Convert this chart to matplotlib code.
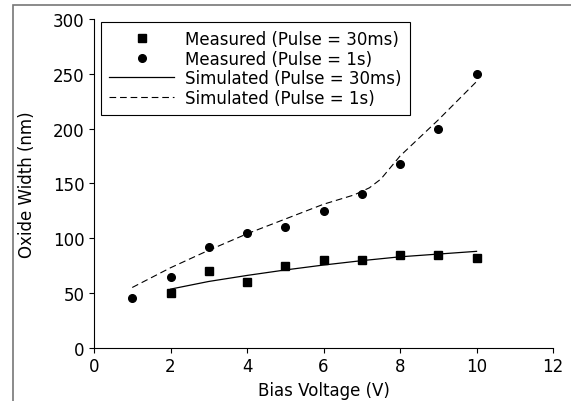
import matplotlib
matplotlib.use('Agg')
import matplotlib.pyplot as plt
from matplotlib.patches import Rectangle

# measured data
volts_30ms = [2, 3, 4, 5, 6, 7, 8, 9, 10]
width_30ms = [50, 70, 60, 75, 80, 80, 85, 85, 82]
volts_1s = [1, 2, 3, 4, 5, 6, 7, 8, 9, 10]
width_1s = [45, 65, 92, 105, 110, 125, 140, 168, 200, 250]

# simulated curves
sim_volts_30ms = [2, 3, 4, 5, 6, 7, 8, 9, 10]
sim_width_30ms = [53.5, 60.5, 66, 71, 75.5, 79.5, 83, 85.5, 88]
sim_volts_1s = [1, 2, 3, 4, 5, 6, 6.8, 7.2, 7.5, 8, 9, 10]
sim_width_1s = [55, 73, 89, 104, 117.5, 131, 139.5, 146, 154, 175, 208, 243]

fig = plt.figure(figsize=(5.71, 4.02), dpi=100)
ax = fig.add_axes([0.1646, 0.1325, 0.804, 0.8175])

# grey frame around the figure (cut off at right/bottom)
fig.patches.append(Rectangle((13 / 571, -0.1), 1.2, 1 - 6 / 402 + 0.1,
                             transform=fig.transFigure, fill=False,
                             edgecolor='#777777', linewidth=1.2))

ax.plot(volts_30ms, width_30ms, 's', color='black', markersize=6,
        label='Measured (Pulse = 30ms)')
ax.plot(volts_1s, width_1s, 'o', color='black', markersize=5.5,
        label='Measured (Pulse = 1s)')
ax.plot(sim_volts_30ms, sim_width_30ms, '-', color='black', linewidth=0.9,
        label='Simulated (Pulse = 30ms)')
ax.plot(sim_volts_1s, sim_width_1s, color='black', linewidth=0.8,
        dashes=(6, 3.5), label='Simulated (Pulse = 1s)')

ax.set_xlim(0, 12)
ax.set_ylim(0, 300)
ax.set_xticks([0, 2, 4, 6, 8, 10, 12])
ax.set_yticks([0, 50, 100, 150, 200, 250, 300])
ax.spines['top'].set_visible(False)
ax.spines['right'].set_visible(False)
ax.tick_params(labelsize=12)
ax.set_xlabel('Bias Voltage (V)', fontsize=12)
ax.set_ylabel('Oxide Width (nm)', fontsize=12, labelpad=12)

leg = ax.legend(loc='upper left', bbox_to_anchor=(7 / 459, 1 - 2.5 / 328.5),
                borderaxespad=0, fontsize=12, handlelength=3.9,
                handletextpad=0.65, fancybox=False, edgecolor='black',
                framealpha=1, labelspacing=0.1, borderpad=0.5)
leg.get_frame().set_linewidth(0.8)

plt.savefig('out.png')
